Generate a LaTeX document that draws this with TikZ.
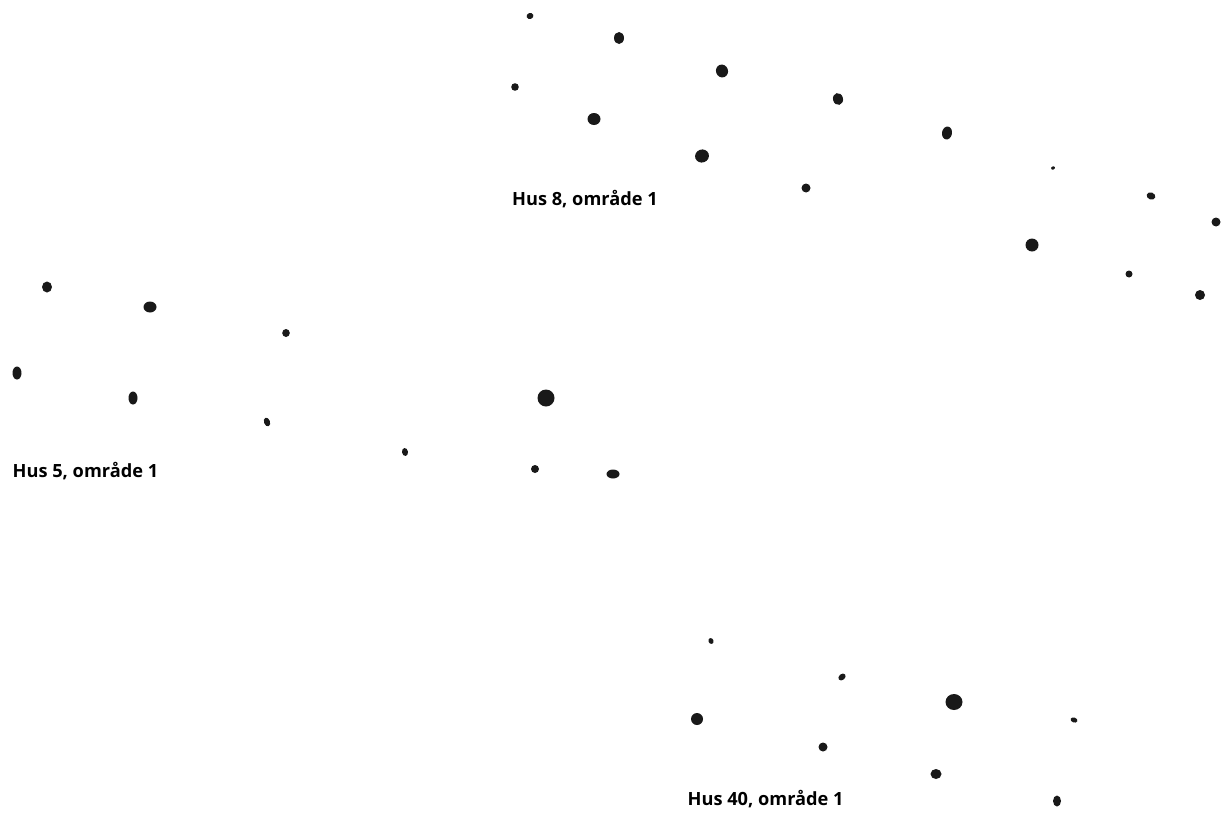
\documentclass[tikz,border=0pt]{standalone}
\usepackage{fontspec}
\setmainfont{Open Sans}
\tikzset{
  hole/.style={fill=black!90},
  husnavn/.style={anchor=base west,inner sep=0pt,font=\bfseries\fontsize{18.2pt}{20pt}\selectfont}
}
\begin{document}
\begin{tikzpicture}[x=1pt,y=-1pt]
  \useasboundingbox (0,0) rectangle (1225,814);
  % Hus 8
  \foreach \x/\y/\a/\b/\r in {530/16/3.5/3/20,619/38/5/6/0,722/71/6/6.5/20,515/87/3.8/3.8/0,
      838/99/5/6/15,594/119/6.5/6/0,947/133/5/6.5/-10,702/156/7/6.5/20,806/188/4.5/4.5/0,
      1053/168/2/1.6/30,1151/196/4.5/3.5/-20,1216/222/4.5/4.5/0,1032/245/6.5/6.5/0,
      1129/274/3.5/3.5/0,1200/295/5/5/0}
    \fill[hole,rotate around={\r:(\x,\y)}] (\x,\y) ellipse (\a pt and \b pt);
  \node[husnavn] (hus8) at (512,205.5) {Hus 8, område 1};
  % Hus 5
  \foreach \x/\y/\a/\b/\r in {47/287/5/5.5/0,150/307/6.5/5.5/0,286/333/3.8/4/0,17/373/4.5/6.5/0,
      133/398/4.5/6.5/0,267/422/3/4.5/20,405/452/3/4/10,546/398/8.5/8.5/0,535/469/4/4/0,
      613/474/6.5/4.5/0}
    \fill[hole,rotate around={\r:(\x,\y)}] (\x,\y) ellipse (\a pt and \b pt);
  \node[husnavn] (hus5) at (12.5,477.5) {Hus 5, område 1};
  % Hus 40
  \foreach \x/\y/\a/\b/\r in {711/641/2.5/3/20,842/677/4/3/40,954/702/8.5/8/0,697/719/6/6/0,
      1074/720/3.5/2.5/-20,823/747/4.5/4.5/0,936/774/5.5/5/0,1057/801/4/5.5/0}
    \fill[hole,rotate around={\r:(\x,\y)}] (\x,\y) ellipse (\a pt and \b pt);
  \node[husnavn] (hus40) at (687.5,805) {Hus 40, område 1};
\end{tikzpicture}
\end{document}
